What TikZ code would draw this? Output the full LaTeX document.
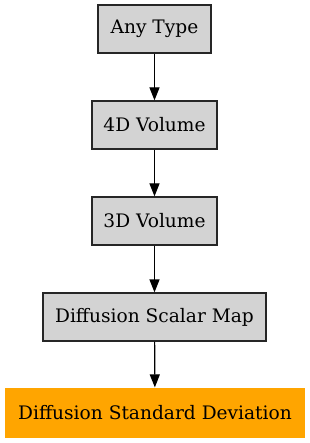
\documentclass[tikz,border=0pt]{standalone}
\usepackage{fontspec}
\setmainfont{DejaVu Serif}
\usetikzlibrary{arrows.meta}
\definecolor{boxgray}{RGB}{211,211,211}
\definecolor{leaforange}{RGB}{255,165,0}
\begin{document}
\begin{tikzpicture}[x=1pt, y=-1pt,
    typebox/.style={draw=black!85, fill=boxgray, line width=1.2pt, rectangle, minimum height=48pt, inner sep=0pt, font=\fontsize{18.6}{21}\selectfont},
    leafbox/.style={typebox, draw=none, fill=leaforange},
    link/.style={-{Triangle[length=13pt, width=10pt]}, line width=1.2pt}]
    \useasboundingbox (0,0) rectangle (309,443);

    % Any Type
    \node[typebox, minimum width=113pt] (anytype) at (154.5,29) {Any Type};

    % 4D Volume
    \node[typebox, minimum width=125pt] (vol4d) at (154.5,125) {4D Volume};

    % 3D Volume
    \node[typebox, minimum width=125pt] (vol3d) at (154.5,221) {3D Volume};

    % Diffusion Scalar Map
    \node[typebox, minimum width=223pt] (scalarmap) at (154.5,317) {Diffusion Scalar Map};

    % Diffusion Standard Deviation
    \node[leafbox, minimum width=300pt, minimum height=50pt] (stddev) at (155,413) {Diffusion Standard Deviation};

    % Inheritance
    \draw[link] (anytype) -- (vol4d);
    \draw[link] (vol4d) -- (vol3d);
    \draw[link] (vol3d) -- (scalarmap);
    \draw[link] (scalarmap) -- (stddev);
\end{tikzpicture}
\end{document}
